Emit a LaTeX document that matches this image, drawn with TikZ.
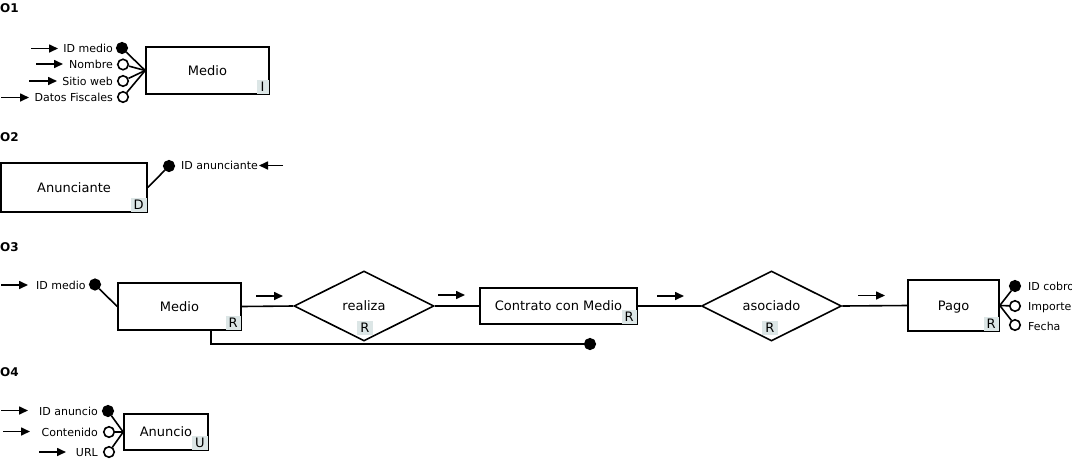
\documentclass[tikz,border=0pt]{standalone}
\usepackage{fontspec}
\setmainfont{DejaVu Sans}
\usetikzlibrary{shapes.geometric,arrows.meta}
\definecolor{tagfill}{HTML}{DCE6E6}
\tikzset{
  lw/.style={line width=1.6pt},
  ent/.style={draw, lw, rectangle, inner sep=0pt, text height=9.5pt, text depth=0pt, font=\fontsize{13}{15}\selectfont},
  rel/.style={draw, lw, diamond, aspect=2, inner sep=0pt, minimum width=140pt, minimum height=70pt, text height=9.5pt, text depth=0pt, font=\fontsize{13}{15}\selectfont},
  tagbox/.style={fill=tagfill, inner xsep=3pt, inner ysep=0.5pt, minimum height=14pt, minimum width=12pt, font=\fontsize{13}{15}\selectfont},
  kcirc/.style={draw, lw, circle, fill=black, minimum size=10.5pt, inner sep=0pt},
  ocirc/.style={draw, lw, circle, fill=white, minimum size=10.5pt, inner sep=0pt},
  attr/.style={inner sep=0pt, font=\fontsize{11}{13}\selectfont},
  ttl/.style={inner sep=0pt, anchor=west, font=\bfseries\fontsize{12}{14}\selectfont},
  arr/.style={line width=1.6pt, -{Triangle[length=9pt,width=8pt]}},
  conn/.style={lw}
}
\begin{document}
\begin{tikzpicture}[x=1pt,y=-1pt]
\useasboundingbox (0,0) rectangle (1072,459);

% ---------- O1 ----------
\node[ttl] (o1) at (0,8) {O1};
\node[ent, minimum width=123pt, minimum height=47pt] (m1) at (207.5,70.5) {Medio};
\node[tagbox, anchor=south east] (t1) at ([shift={(-1,-1)}]m1.south east) {I};
\node[kcirc] (c11) at (122,48) {};
\node[ocirc] (c12) at (123,64.5) {};
\node[ocirc] (c13) at (123,81) {};
\node[ocirc] (c14) at (123,97) {};
\draw[conn] (c11) -- (m1.west);
\draw[conn] (c12) -- (m1.west);
\draw[conn] (c13) -- (m1.west);
\draw[conn] (c14) -- (m1.west);
\node[attr, anchor=base east] (l11) at (113,52.5) {ID medio};
\node[attr, anchor=base east] (l12) at (113,68.5) {Nombre};
\node[attr, anchor=base east] (l13) at (113,85.5) {Sitio web};
\node[attr, anchor=base east] (l14) at (113,101.5) {Datos Fiscales};
\coordinate (s11) at (31,48.5);  \coordinate (e11) at (58,48.5);
\coordinate (s12) at (36,64);  \coordinate (e12) at (63,64);
\coordinate (s13) at (29,81);  \coordinate (e13) at (57,81);
\coordinate (s14) at (1,97.5);   \coordinate (e14) at (29,97.5);
\draw[arr] (s11) -- (e11);
\draw[arr] (s12) -- (e12);
\draw[arr] (s13) -- (e13);
\draw[arr] (s14) -- (e14);

% ---------- O2 ----------
\node[ttl] (o2) at (0,137) {O2};
\node[ent, minimum width=146pt, minimum height=49pt] (an) at (74,187.5) {Anunciante};
\node[tagbox, anchor=south east] (t2) at ([shift={(-1,-1)}]an.south east) {D};
\node[kcirc] (c21) at (169,166) {};
\draw[conn] (an.east) -- (c21);
\node[attr, anchor=base west] (l21) at (181,169.5) {ID anunciante};
\coordinate (s21) at (283,165.5); \coordinate (e21) at (259,165.5);
\draw[arr] (s21) -- (e21);

% ---------- O3 ----------
\node[ttl] (o3) at (0,247) {O3};
\coordinate (s31) at (1,285); \coordinate (e31) at (28,285);
\draw[arr] (s31) -- (e31);
\node[attr, anchor=base west] (l31) at (36,289) {ID medio};
\node[kcirc] (c31) at (95,284.5) {};
\node[ent, minimum width=123pt, minimum height=47pt] (m3) at (179.5,306.5) {Medio};
\node[tagbox, anchor=south east] (t3) at ([shift={(-1,-1)}]m3.south east) {R};
\draw[conn] (c31) -- (m3.west);

\node[rel] (re) at (364,306) {realiza};
\node[tagbox] (t4) at (365,328) {R};
\draw[conn] (m3.east) -- (re.west);
\coordinate (s32) at (256,296); \coordinate (e32) at (283,296);
\draw[arr] (s32) -- (e32);

\node[ent, minimum width=157pt, minimum height=36pt] (cm) at (558.5,306) {Contrato con Medio};
\node[tagbox, anchor=south east] (t5) at ([shift={(-1,-1)}]cm.south east) {R};
\draw[conn] (re.east) -- (cm.west);
\coordinate (s33) at (438,295); \coordinate (e33) at (465,295);
\draw[arr] (s33) -- (e33);

\node[rel] (as) at (771.5,306) {asociado};
\node[tagbox] (t6) at (770,328) {R};
\draw[conn] (cm.east) -- (as.west);
\coordinate (s34) at (657,296); \coordinate (e34) at (684,296);
\draw[arr] (s34) -- (e34);

\node[ent, minimum width=91pt, minimum height=51pt] (pg) at (953.5,305.5) {Pago};
\node[tagbox, anchor=south east] (t7) at ([shift={(-1,-1)}]pg.south east) {R};
\draw[conn] (as.east) -- (pg.west);
\coordinate (s35) at (858,295.5); \coordinate (e35) at (885,295.5);
\draw[arr] (s35) -- (e35);

\node[kcirc] (c32) at (1015,286) {};
\node[ocirc] (c33) at (1015,306) {};
\node[ocirc] (c34) at (1015,325) {};
\draw[conn] (c32) -- (pg.east);
\draw[conn] (c33) -- (pg.east);
\draw[conn] (c34) -- (pg.east);
\node[attr, anchor=base west] (l32) at (1028,290) {ID cobro};
\node[attr, anchor=base west] (l33) at (1028,310) {Importe};
\node[attr, anchor=base west] (l34) at (1028,330) {Fecha};

\node[kcirc] (dt) at (590,344) {};
\draw[conn] ([xshift=31.5pt]m3.south) |- (dt);

% ---------- O4 ----------
\node[ttl] (o4) at (0,372) {O4};
\node[ent, minimum width=84pt, minimum height=36pt] (au) at (166,432) {Anuncio};
\node[tagbox, anchor=south east] (t8) at ([shift={(-1,-1)}]au.south east) {U};
\node[kcirc] (c41) at (108,411) {};
\node[ocirc] (c42) at (109,432) {};
\node[ocirc] (c43) at (109,452) {};
\draw[conn] (c41) -- (au.west);
\draw[conn] (c42) -- (au.west);
\draw[conn] (c43) -- (au.west);
\node[attr, anchor=base east] (l41) at (98,415) {ID anuncio};
\node[attr, anchor=base east] (l42) at (98,436) {Contenido};
\node[attr, anchor=base east] (l43) at (98,456) {URL};
\coordinate (s41) at (1,410.5); \coordinate (e41) at (28,410.5);
\coordinate (s42) at (3,431.5); \coordinate (e42) at (30,431.5);
\coordinate (s43) at (39,452); \coordinate (e43) at (66,452);
\draw[arr] (s41) -- (e41);
\draw[arr] (s42) -- (e42);
\draw[arr] (s43) -- (e43);
\end{tikzpicture}
\end{document}
